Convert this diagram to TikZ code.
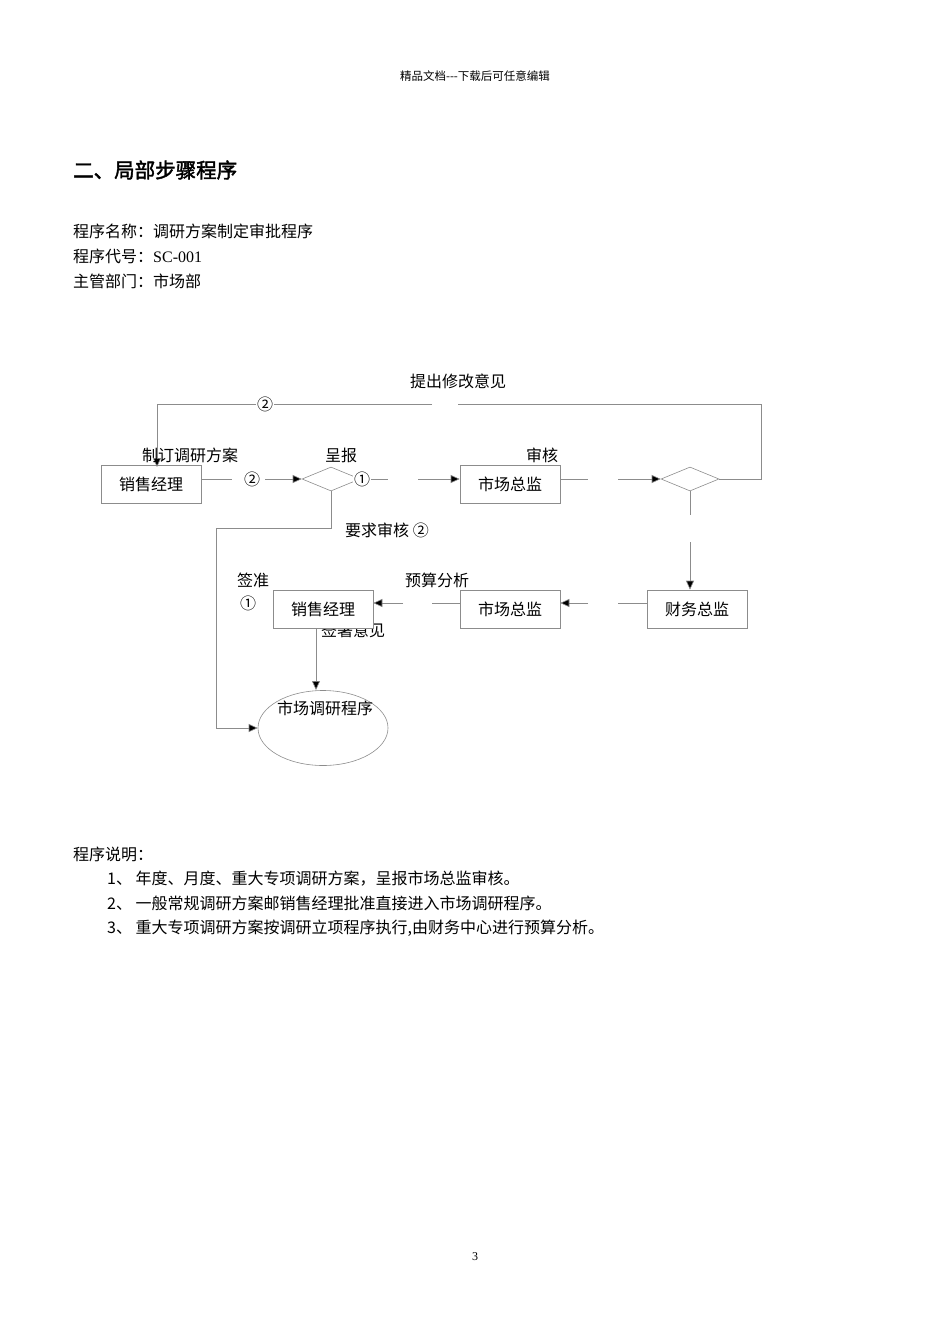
\documentclass[tikz,border=0pt]{standalone}
\usepackage{fontspec}
\setmainfont{Liberation Serif}
\newfontfamily\cjk{Noto Sans CJK SC}
\newfontfamily\cjkb[FakeBold=2]{Noto Sans CJK SC}
\usetikzlibrary{shapes.geometric,arrows.meta}
\begin{document}
\begin{tikzpicture}[x=1pt,y=-1pt,
  every node/.style={inner sep=0pt,font=\cjk\fontsize{16}{18}\selectfont},
  bx/.style={draw=black!45,line width=0.6pt,minimum width=100pt,minimum height=38pt},
  dm/.style={diamond,draw=black!45,line width=0.6pt,minimum width=58pt,minimum height=24pt,aspect=2.4},
  ln/.style={draw=black!45,line width=0.6pt},
  ar/.style={ln,-{Triangle[length=9pt,width=8pt,fill=black]}},
  tx/.style={anchor=west,font=\cjk\fontsize{16}{18}\selectfont}]
\useasboundingbox (0,0) rectangle (950,1344);
\node[font=\cjk\fontsize{11.5}{13}\selectfont] (hd) at (475,76) {精品文档---下载后可任意编辑};
\node[anchor=west,font=\cjkb\fontsize{20.5}{23}\selectfont] (tt) at (73,170) {二、局部步骤程序};
\node[tx] (l1) at (73,231) {程序名称：调研方案制定审批程序};
\node[tx] (l2) at (73,256) {程序代号：\rmfamily SC-001};
\node[tx] (l3) at (73,281) {主管部门：市场部};
\node[tx] (d0) at (73,854) {程序说明：};
\node[tx] (d1) at (107,879) {1、\ 年度、月度、重大专项调研方案，呈报市场总监审核。};
\node[tx] (d2) at (107,903) {2、\ 一般常规调研方案邮销售经理批准直接进入市场调研程序。};
\node[tx] (d3) at (107,928) {3、\ 重大专项调研方案按调研立项程序执行,由财务中心进行预算分析。};
\node[font=\rmfamily\fontsize{12}{14}\selectfont] (pg) at (475,1257) {3};
\node (qs) at (353,630) {签署意见};
\node[bx,fill=white] (s1) at (151,484) {销售经理};
\node[dm] (m1) at (331,479) {};
\node[bx] (z1) at (510,484) {市场总监};
\node[dm] (m2) at (690,479) {};
\node[bx] (cw) at (697,609) {财务总监};
\node[bx] (z2) at (510,609) {市场总监};
\node[bx,fill=white] (s2) at (323,609) {销售经理};
\node[ellipse,draw=black!45,line width=0.6pt,minimum width=130pt,minimum height=75pt] (el) at (323,728) {};
\node (elt) at (325,708) {市场调研程序};
\coordinate (a1) at (232,479); \coordinate (a2) at (265,479);
\draw[ln] (s1.east|-a1) -- (a1); \draw[ar] (a2) -- (m1.west);
\coordinate (b1) at (388,479); \coordinate (b2) at (418,479);
\draw[ln] (m1.east) -- (b1); \draw[ar] (b2) -- (z1.west|-b2);
\coordinate (c1) at (588,479); \coordinate (c2) at (618,479);
\draw[ln] (z1.east|-c1) -- (c1); \draw[ar] (c2) -- (m2.west);
\coordinate (e1) at (432,404); \coordinate (e2) at (458,404);
\draw[ln] (m2.east) -| (761,404) -- (e2);
\draw[ar] (e1) -| (157,467);
\coordinate (f1) at (690,515); \coordinate (f2) at (690,542);
\draw[ln] (m2.south) -- (f1); \draw[ar] (f2) -- (cw.north-|f2);
\coordinate (g1) at (618,603); \coordinate (g2) at (588,603);
\draw[ln] (cw.west|-g1) -- (g1); \draw[ar] (g2) -- (z2.east|-g2);
\coordinate (h1) at (432,603); \coordinate (h2) at (403,603);
\draw[ln] (z2.west|-h1) -- (h1); \draw[ar] (h2) -- (s2.east|-h2);
\draw[ar] (m1.south) -- (331,528) -| (216,728) -- (el.west);
\draw[ar] (316,628) -- (316,690);
\node (t1) at (458,381) {提出修改意见};
\node[fill=white,inner sep=1pt] (c2a) at (265,404) {②};
\node (t2) at (190,455) {制订调研方案};
\node (t3) at (341,455) {呈报};
\node (t4) at (542,455) {审核};
\node[fill=white,inner sep=1pt] (c2b) at (252,479) {②};
\node[fill=white,inner sep=1pt] (c1a) at (362,479) {①};
\node (t5) at (387,530) {要求审核 ②};
\node (t6) at (253,580) {签准};
\node (c1b) at (248,603) {①};
\node (t7) at (437,580) {预算分析};
\end{tikzpicture}
\end{document}
